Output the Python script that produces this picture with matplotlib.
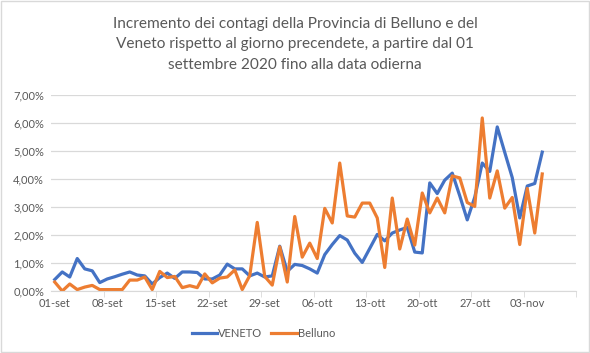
import numpy as np
import matplotlib
matplotlib.use('Agg')
from matplotlib import pyplot as plt
from matplotlib.patches import Rectangle
from matplotlib.ticker import FuncFormatter

# incremento giornaliero in %, dal 01-set al 05-nov 2020
veneto = [0.41, 0.68, 0.50, 1.16, 0.79, 0.72, 0.30, 0.43, 0.51, 0.60,
          0.68, 0.57, 0.54, 0.25, 0.48, 0.64, 0.45, 0.68, 0.68, 0.66,
          0.43, 0.43, 0.57, 0.96, 0.79, 0.79, 0.54, 0.64, 0.50, 0.54,
          1.60, 0.70, 0.95, 0.91, 0.79, 0.64, 1.30, 1.66, 1.98, 1.82,
          1.35, 1.02, 1.52, 2.02, 1.79, 2.07, 2.18, 2.27, 1.39, 1.36,
          3.86, 3.48, 3.96, 4.21, 3.40, 2.54, 3.35, 4.57, 4.27, 5.86,
          4.95, 4.05, 2.61, 3.75, 3.84, 4.96]
belluno = [0.32, 0.00, 0.25, 0.05, 0.14, 0.20, 0.05, 0.05, 0.05, 0.05,
           0.39, 0.39, 0.50, 0.05, 0.70, 0.48, 0.52, 0.12, 0.19, 0.12,
           0.61, 0.29, 0.46, 0.50, 0.75, 0.05, 0.55, 2.45, 0.52, 0.21,
           1.58, 0.32, 2.66, 1.21, 1.71, 1.16, 2.95, 2.43, 4.57, 2.68,
           2.64, 3.14, 3.14, 2.61, 0.84, 3.32, 1.50, 2.57, 1.64, 3.50,
           2.79, 3.32, 2.79, 4.11, 4.04, 3.16, 3.02, 6.18, 3.32, 4.29,
           2.96, 3.34, 1.66, 3.66, 2.07, 4.18]
tick_labels = ['01-set', '08-set', '15-set', '22-set', '29-set',
               '06-ott', '13-ott', '20-ott', '27-ott', '03-nov']

titolo = ('Incremento dei contagi della Provincia di Belluno e del\n'
          'Veneto rispetto al giorno precendete, a partire dal 01\n'
          'settembre 2020 fino alla data odierna')

plt.rcParams['font.family'] = ['Lato', 'DejaVu Sans']
grey = '#595959'
light = '#d9d9d9'

fig = plt.figure(figsize=(5.9, 3.53), dpi=100)
ax = fig.add_axes([51/590, 1 - 291/353, 525/590, 196/353])

days = np.arange(len(veneto))
ax.plot(days, veneto, color='#4472C4', lw=2.3, label='VENETO', solid_joinstyle='round')
ax.plot(days, belluno, color='#ED7D31', lw=2.3, label='Belluno', solid_joinstyle='round')

ax.set_xlim(-0.5, len(veneto) - 0.5)
ax.set_ylim(0, 7)
ax.set_yticks(np.arange(0, 8))
ax.yaxis.set_major_formatter(FuncFormatter(lambda v, p: ('%.2f%%' % v).replace('.', ',')))
ax.set_xticks(np.arange(len(tick_labels)) * 7)
ax.set_xticklabels(tick_labels)
ax.set_xticks(np.arange(len(tick_labels)) * 7 + 6.5, minor=True)

ax.grid(axis='y', color=light, lw=0.9)
ax.set_axisbelow(True)
for s in ['left', 'right', 'top']:
    ax.spines[s].set_visible(False)
ax.spines['bottom'].set_color(light)
ax.tick_params(axis='both', which='major', length=0, labelsize=8, colors=grey, pad=5)
ax.tick_params(axis='x', which='minor', length=4, color=light)

fig.text(0.5, 0.953, titolo, ha='center', va='top', fontsize=11.1, color=grey,
         linespacing=1.6)

ax.legend(loc='center', bbox_to_anchor=(0.405, -0.215), ncol=2, frameon=False,
          fontsize=8, handlelength=2.3, columnspacing=0.8, handletextpad=0.1,
          labelcolor=grey)

fig.add_artist(Rectangle((0.002, 0.003), 0.996, 0.994, transform=fig.transFigure,
                         fill=False, edgecolor=light, lw=1))

fig.savefig('out.png', dpi=100, facecolor='white')
